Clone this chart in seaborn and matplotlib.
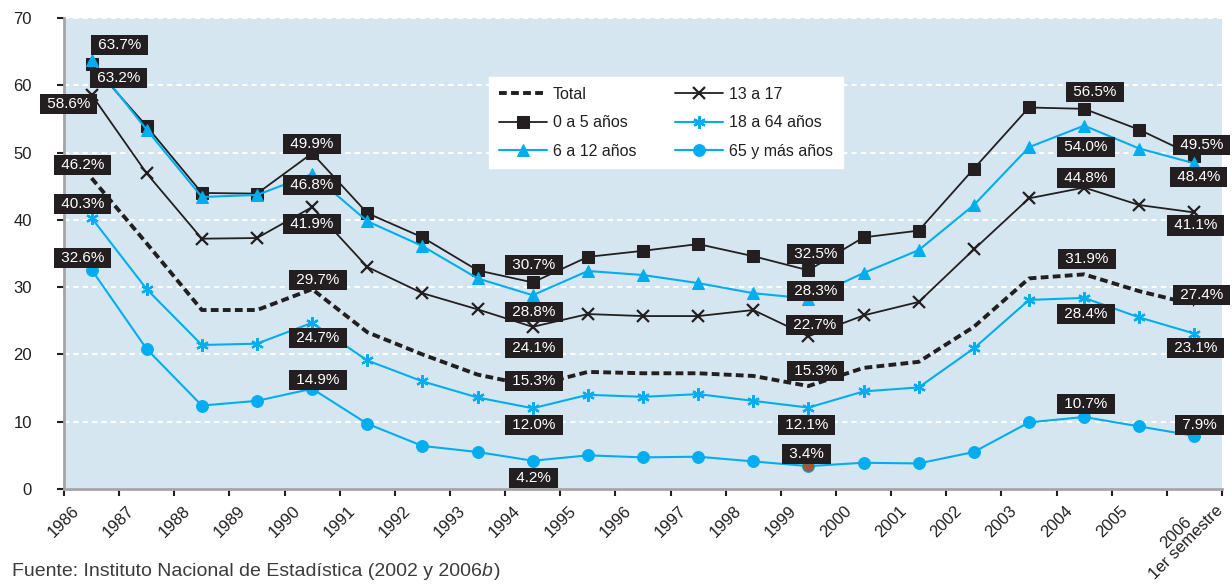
import matplotlib
matplotlib.use("Agg")
import matplotlib.pyplot as plt
from matplotlib.transforms import ScaledTranslation
import seaborn as sns
import numpy as np

# ---- data -------------------------------------------------------------
years = ["1986", "1987", "1988", "1989", "1990", "1991", "1992", "1993",
         "1994", "1995", "1996", "1997", "1998", "1999", "2000", "2001",
         "2002", "2003", "2004", "2005", "2006\n1er semestre"]

total = [46.2, 36.5, 26.6, 26.6, 29.7, 23.3, 20.0, 17.0, 15.3, 17.4, 17.2,
         17.2, 16.8, 15.3, 18.0, 18.9, 24.1, 31.3, 31.9, 29.4, 27.4]
edad_0_5 = [63.2, 53.9, 44.0, 43.9, 49.9, 41.0, 37.4, 32.5, 30.7, 34.5, 35.4,
            36.4, 34.6, 32.5, 37.4, 38.4, 47.6, 56.7, 56.5, 53.4, 49.5]
edad_6_12 = [63.7, 53.4, 43.4, 43.7, 46.8, 39.8, 36.1, 31.3, 28.8, 32.4, 31.8,
             30.6, 29.1, 28.3, 32.1, 35.5, 42.2, 50.8, 54.0, 50.6, 48.4]
edad_13_17 = [58.6, 46.9, 37.2, 37.3, 41.9, 33.0, 29.1, 26.7, 24.1, 26.0, 25.7,
              25.7, 26.6, 22.7, 25.8, 27.8, 35.6, 43.2, 44.8, 42.2, 41.1]
edad_18_64 = [40.3, 29.7, 21.4, 21.6, 24.7, 19.1, 16.0, 13.6, 12.0, 14.0, 13.7,
              14.1, 13.1, 12.1, 14.5, 15.1, 20.9, 28.1, 28.4, 25.5, 23.1]
edad_65 = [32.6, 20.8, 12.4, 13.1, 14.9, 9.7, 6.4, 5.5, 4.2, 5.0, 4.7,
           4.8, 4.1, 3.4, 3.9, 3.8, 5.5, 9.9, 10.7, 9.3, 7.9]

series_names = ["Total", "0 a 5 años", "6 a 12 años",
                "13 a 17", "18 a 64 años", "65 y más años"]

# years whose values carry a label
labelled = [0, 4, 8, 13, 18, 20]

# ---- style -------------------------------------------------------------
sns.set_theme(style="white")
plt.rcParams["font.family"] = ["Liberation Sans", "DejaVu Sans"]

INK = "#231f20"
BLUE = "#00aeef"
BG = "#d5e6f0"

# per-series drawing style
styles = {
    "Total":         dict(color=INK, lw=2.8, marker=None),
    "0 a 5 años":    dict(color=INK, lw=1.3, marker="s", ms=8.5, mec=INK, mfc=INK),
    "6 a 12 años":   dict(color=BLUE, lw=1.5, marker="^", ms=9, mec=BLUE, mfc=BLUE),
    "13 a 17":       dict(color=INK, lw=1.3, marker="x", ms=8, mew=1.6, mec=INK),
    "18 a 64 años":  dict(color=BLUE, lw=1.5, marker=(6, 2, 0), ms=9, mew=1.6, mec=BLUE),
    "65 y más años": dict(color=BLUE, lw=1.5, marker="o", ms=8.5, mec=BLUE, mfc=BLUE),
}

# label box offsets (pixels, +x right, +y down) for each labelled year
label_offsets = {
    "Total":         [(-9, -13), (6, -9), (1, -5), (7, -15), (3, -15), (7, -10)],
    "0 a 5 años":    [(27, 14), (0, -9), (1, -17), (7, -16), (11, -17), (7, -11)],
    "6 a 12 años":   [(28, -15), (0, 11), (1, 17), (7, -8), (2, 21), (4, 14)],
    "13 a 17":       [(-23, 9), (0, 17), (1, 21), (6, -11), (2, -10), (1, 13)],
    "18 a 64 años":  [(-9, -14), (6, 15), (1, 17), (-2, 17), (2, 16), (1, 14)],
    "65 y más años": [(-9, -12), (6, -9), (1, 17), (-2, -12), (2, -13), (5, -11)],
}

values = {
    "Total": total, "0 a 5 años": edad_0_5, "6 a 12 años": edad_6_12,
    "13 a 17": edad_13_17, "18 a 64 años": edad_18_64, "65 y más años": edad_65,
}

# ---- figure -------------------------------------------------------------
fig = plt.figure(figsize=(12.32, 5.85), dpi=100)
ax = fig.add_axes([64 / 1232, 1 - 489 / 585, (1222 - 64) / 1232, (489 - 18) / 585])
ax.set_facecolor(BG)

xpos = np.arange(len(years)) + 0.5

for name in series_names:
    st = dict(styles[name])
    sns.lineplot(x=xpos, y=values[name], ax=ax, label=name,
                 color=st.pop("color"), linewidth=st.pop("lw"),
                 marker=st.pop("marker"),
                 markersize=st.pop("ms", 0), zorder=3, **st)
    if name == "Total":
        ax.lines[-1].set_dashes([2.0, 1.1])

# highlighted 1999 point of the 65+ series
sns.scatterplot(x=[xpos[13]], y=[edad_65[13]], ax=ax, color="#9c5a3c",
                s=70, edgecolor="none", zorder=4, legend=False)

# value labels
for name in series_names:
    vals = values[name]
    for idx, (dx, dy) in zip(labelled, label_offsets[name]):
        ax.annotate(f" {vals[idx]:.1f}% ", xy=(xpos[idx], vals[idx]),
                    xytext=(dx, -dy), textcoords="offset pixels",
                    ha="center", va="center", color="white", fontsize=11,
                    bbox=dict(boxstyle="square,pad=0.2", fc=INK, ec="none"),
                    zorder=6, annotation_clip=False)

# axes
ax.set_xlim(0, len(years))
ax.set_ylim(0, 70)
ax.set_yticks(range(0, 71, 10))
ax.set_xticks(range(len(years) + 1))
ax.set_xticklabels(years + [""], rotation=45, ha="center", va="top",
                   fontsize=12, color=INK, linespacing=0.95)
ax.tick_params(axis="y", direction="out", length=5, width=1.5, color=INK,
               pad=18, labelsize=12, labelcolor=INK, left=True)
ax.tick_params(axis="x", direction="out", length=5, width=1.5, color=INK,
               pad=5, bottom=True)
# two-line label of the last period sits a little up and to the right
last = ax.get_xticklabels()[len(years) - 1]
last.set_transform(last.get_transform()
                   + ScaledTranslation(14 / 100, 10 / 100, fig.dpi_scale_trans))

ax.yaxis.grid(True, color="white", linestyle=(0, (2.5, 2)), linewidth=1.5)
ax.xaxis.grid(False)
ax.set_axisbelow(True)
for side in ("top", "right"):
    ax.spines[side].set_visible(False)
for side in ("left", "bottom"):
    ax.spines[side].set_color("#a5a5a5")
    ax.spines[side].set_linewidth(2)
ax.set_xlabel("")
ax.set_ylabel("")

leg = ax.legend(ncol=2, loc="upper left",
                bbox_to_anchor=((489 - 64) / 1158, (489 - 77) / 471),
                borderaxespad=0,
                frameon=True, fancybox=False, framealpha=1, edgecolor="white",
                facecolor="white", fontsize=11.5, handlelength=3.0,
                labelspacing=0.85, columnspacing=2.4, borderpad=0.6,
                handletextpad=0.4)
for t in leg.get_texts():
    t.set_color(INK)

# source note
fig.canvas.draw()
renderer = fig.canvas.get_renderer()
src_y = 1 - 563 / 585
SRC = dict(fontsize=14, color="#3c3c3c", va="top", ha="left")
t1 = fig.text(12 / 1232, src_y, "Fuente: Instituto Nacional de Estadística (2002 y 2006", **SRC)
bb = t1.get_window_extent(renderer)
t2 = fig.text(bb.x1 / 1232, src_y, "b", style="italic", **SRC)
bb2 = t2.get_window_extent(renderer)
fig.text(bb2.x1 / 1232 + 1 / 1232, src_y, ")", **SRC)

fig.savefig("out.png", dpi=100)
